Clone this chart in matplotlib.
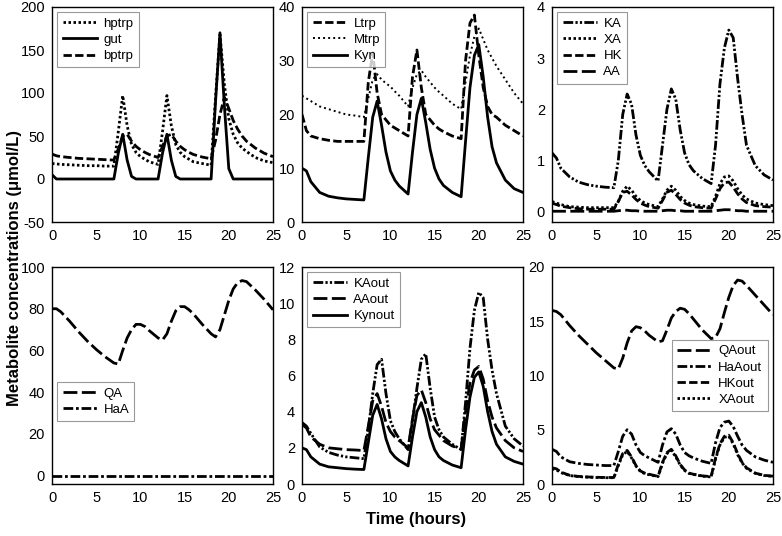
import numpy as np
import matplotlib
matplotlib.use("Agg")
import matplotlib.pyplot as plt

plt.rcParams['font.family'] = ['Liberation Sans', 'DejaVu Sans']
plt.rcParams['axes.unicode_minus'] = False

# ----------------------
# DATA
# ----------------------
hours = [0, 0.5, 1, 2, 3, 4, 5, 6, 7,
         7.5, 8, 8.5, 9, 9.5, 10, 10.5, 11, 12,
         12.5, 13, 13.5, 14, 14.5, 15, 15.5, 16, 17, 18,
         18.5, 19, 19.5, 20, 20.5, 21, 21.5, 22, 23, 24, 25]

# panel 1
hptrp = [18, 17.5, 17, 16.5, 16, 15.5, 15.5, 15, 15,
         55, 97, 62, 40, 31, 26, 23, 20, 17,
         55, 97, 62, 40, 31, 26, 23, 20, 18, 16,
         95, 168, 110, 70, 52, 42, 36, 32, 25, 21, 19]
gut = [5, 0, 0, 0, 0, 0, 0, 0, 0,
       30, 52, 22, 3, 0, 0, 0, 0, 0,
       30, 52, 22, 3, 0, 0, 0, 0, 0, 0,
       90, 170, 85, 12, 0, 0, 0, 0, 0, 0, 0]
bptrp = [29, 27, 26, 25, 24, 23.5, 23, 22.5, 22,
         35, 50, 52, 44, 38, 34, 31, 28.5, 25,
         38, 50, 52, 44, 38, 34, 31, 28.5, 25.5, 23.5,
         45, 75, 95, 82, 68, 58, 50, 44, 36, 30, 26]

# panel 2
Ltrp = [20, 17, 16, 15.5, 15.2, 15, 15, 15, 15,
        26, 31.5, 24, 20, 19, 18, 17.5, 17, 16,
        27, 32, 25, 20, 19, 18, 17.3, 16.8, 16, 15.5,
        30, 37, 38.5, 31, 25, 21.5, 20, 19.5, 18, 17, 16]
Mtrp = [23.5, 23, 22.5, 21.5, 21, 20.5, 20, 19.8, 19.5,
        23, 26.5, 27.5, 26.5, 25.8, 25.2, 24.3, 23.5, 21.5,
        25, 27.5, 28.2, 27, 26, 25, 24.2, 23.5, 22, 21,
        26, 31, 34.5, 36, 34, 32, 30.5, 29, 26.5, 24, 22]
Kyn = [10, 9.5, 7.5, 5.5, 4.8, 4.5, 4.3, 4.2, 4.1,
       12, 19.5, 22.5, 18, 13, 9.5, 7.8, 6.7, 5.2,
       13, 20, 23, 18.5, 13.5, 10, 8, 6.8, 5.5, 4.7,
       15, 25, 31, 33, 27, 19.5, 14, 11, 7.8, 6.2, 5.5]

# panel 3
KA = [1.15, 1.05, 0.85, 0.68, 0.58, 0.53, 0.5, 0.48, 0.47,
      1.0, 1.9, 2.3, 2.1, 1.5, 1.1, 0.9, 0.78, 0.6,
      1.3, 2.0, 2.4, 2.2, 1.6, 1.15, 0.92, 0.8, 0.65, 0.55,
      1.3, 2.5, 3.2, 3.55, 3.4, 2.6, 1.9, 1.3, 0.9, 0.72, 0.62]
XA = [0.2, 0.17, 0.14, 0.1, 0.09, 0.08, 0.08, 0.08, 0.08,
      0.2, 0.4, 0.5, 0.42, 0.3, 0.22, 0.17, 0.14, 0.1,
      0.25, 0.42, 0.5, 0.42, 0.3, 0.22, 0.17, 0.14, 0.11, 0.1,
      0.3, 0.55, 0.68, 0.7, 0.6, 0.45, 0.33, 0.25, 0.17, 0.14, 0.12]
HK = [0.17, 0.14, 0.11, 0.08, 0.06, 0.05, 0.05, 0.05, 0.05,
      0.2, 0.38, 0.4, 0.33, 0.24, 0.17, 0.13, 0.1, 0.07,
      0.22, 0.38, 0.42, 0.34, 0.24, 0.17, 0.13, 0.1, 0.08, 0.07,
      0.25, 0.45, 0.57, 0.58, 0.48, 0.35, 0.25, 0.18, 0.12, 0.1, 0.09]
AA = [0.01, 0.01, 0.01, 0.01, 0.01, 0.01, 0.01, 0.01, 0.01,
      0.02, 0.03, 0.03, 0.02, 0.02, 0.01, 0.01, 0.01, 0.01,
      0.02, 0.03, 0.03, 0.02, 0.02, 0.01, 0.01, 0.01, 0.01, 0.01,
      0.02, 0.03, 0.04, 0.04, 0.03, 0.02, 0.02, 0.01, 0.01, 0.01, 0.01]

# panel 4
QA = [80, 80, 78.5, 74, 69, 64.5, 60.5, 57, 54,
      53.5, 60, 66, 70, 72.5, 72.5, 71.5, 69.5, 66,
      65, 68, 74, 79, 81, 81, 79.5, 77.5, 72.5, 68,
      66.5, 70, 77, 84, 89.5, 92.5, 93.5, 93, 89, 84.5, 79.5]
HaA = [0] * len(hours)

# panel 5
KAout = [3.4, 3.2, 2.8, 2.05, 1.75, 1.6, 1.5, 1.45, 1.4,
         3.0, 5.0, 6.6, 6.9, 5.0, 3.5, 2.9, 2.5, 1.9,
         3.5, 5.3, 6.9, 7.2, 5.3, 3.7, 3.0, 2.6, 2.2, 1.9,
         4.5, 7.5, 9.6, 10.6, 10.3, 8.0, 6.3, 5.0, 3.2, 2.5, 2.1]
AAout = [3.3, 3.1, 2.6, 2.2, 2.0, 1.95, 1.9, 1.88, 1.85,
         3.2, 4.6, 5.0, 4.3, 3.4, 2.9, 2.6, 2.4, 2.0,
         3.6, 4.9, 5.2, 4.5, 3.6, 3.0, 2.7, 2.4, 2.1, 1.95,
         4.0, 5.6, 6.3, 6.5, 5.8, 4.6, 3.7, 3.1, 2.4, 2.0, 1.8]
Kynout = [2.0, 1.9, 1.5, 1.1, 0.95, 0.9, 0.85, 0.82, 0.8,
          2.3, 3.8, 4.4, 3.6, 2.5, 1.8, 1.5, 1.3, 1.0,
          2.6, 4.0, 4.5, 3.7, 2.6, 1.9, 1.5, 1.3, 1.05, 0.9,
          3.0, 4.8, 5.9, 6.2, 5.4, 4.0, 2.9, 2.2, 1.5, 1.25, 1.1]

# panel 6
QAout = [16, 15.9, 15.6, 14.6, 13.7, 12.9, 12.1, 11.4, 10.7,
         10.6, 11.6, 13, 14.1, 14.5, 14.4, 14.1, 13.7, 13.1,
         13.2, 14.2, 15.3, 15.9, 16.2, 16.1, 15.7, 15.2, 14.2, 13.4,
         13.5, 14.3, 15.8, 17.2, 18.3, 18.8, 18.7, 18.3, 17.4, 16.5, 15.6]
HaAout = [3.2, 3.0, 2.5, 2.05, 1.9, 1.8, 1.75, 1.7, 1.7,
          3.0, 4.4, 5.0, 4.6, 3.6, 2.9, 2.6, 2.4, 2.0,
          3.6, 4.8, 5.1, 4.6, 3.6, 2.9, 2.6, 2.4, 2.1, 1.9,
          3.8, 5.2, 5.7, 5.8, 5.3, 4.4, 3.6, 3.1, 2.5, 2.2, 2.0]
HKout = [1.5, 1.4, 1.1, 0.8, 0.7, 0.65, 0.62, 0.6, 0.6,
         1.8, 2.8, 3.1, 2.5, 1.7, 1.2, 1.0, 0.9, 0.7,
         2.0, 2.9, 3.2, 2.6, 1.8, 1.3, 1.0, 0.9, 0.75, 0.68,
         2.4, 3.7, 4.4, 4.5, 3.8, 2.8, 2.0, 1.5, 1.0, 0.8, 0.72]
XAout = [1.4, 1.3, 1.05, 0.78, 0.68, 0.63, 0.6, 0.58, 0.58,
         1.7, 2.7, 3.0, 2.4, 1.65, 1.15, 0.95, 0.85, 0.68,
         1.9, 2.8, 3.1, 2.5, 1.75, 1.25, 0.98, 0.88, 0.72, 0.65,
         2.3, 3.6, 4.3, 4.4, 3.7, 2.7, 1.95, 1.45, 0.98, 0.78, 0.7]

# ----------------------
# LINE STYLES
# ----------------------
DOT = (0, (0.9, 0.9))
FINEDOT = (0, (1, 1.6))
DASH = (0, (3, 1.2))
LONGDASH = (0, (5, 1.6))
DASHDOT = (0, (3.5, 1, 1, 1))
DASHDOTDOT = (0, (3.5, 0.8, 0.8, 0.8, 0.8, 0.8))
LW = 2.0

panels = [
    dict(series=[('hptrp', hptrp, DOT, LW), ('gut', gut, '-', LW), ('bptrp', bptrp, DASH, LW)],
         ylim=(-50, 200), yticks=[-50, 0, 50, 100, 150, 200], loc='upper left', anchor=None),
    dict(series=[('Ltrp', Ltrp, DASH, LW), ('Mtrp', Mtrp, FINEDOT, 1.4), ('Kyn', Kyn, '-', LW)],
         ylim=(0, 40), yticks=[0, 10, 20, 30, 40], loc='upper left', anchor=None),
    dict(series=[('KA', KA, DASHDOTDOT, LW), ('XA', XA, DOT, LW), ('HK', HK, DASH, LW), ('AA', AA, LONGDASH, LW)],
         ylim=(-0.2, 4), yticks=[0, 1, 2, 3, 4], loc='upper left', anchor=None),
    dict(series=[('QA', QA, LONGDASH, LW), ('HaA', HaA, DASHDOT, LW)],
         ylim=(-4, 100), yticks=[0, 20, 40, 60, 80, 100], loc='center left', anchor=(0.0, 0.38)),
    dict(series=[('KAout', KAout, DASHDOTDOT, LW), ('AAout', AAout, LONGDASH, LW), ('Kynout', Kynout, '-', LW)],
         ylim=(0, 12), yticks=[0, 2, 4, 6, 8, 10, 12], loc='upper left', anchor=None),
    dict(series=[('QAout', QAout, LONGDASH, LW), ('HaAout', HaAout, DASHDOT, LW), ('HKout', HKout, DASH, LW), ('XAout', XAout, DOT, LW)],
         ylim=(0, 20), yticks=[0, 5, 10, 15, 20], loc='center right', anchor=(1.0, 0.5)),
]

# ----------------------
# PLOT
# ----------------------
fig = plt.figure(figsize=(7.82, 5.36), dpi=100)
lefts = [52 / 782, 302 / 782, 552 / 782]
w = 221 / 782
rows = [(1 - 222 / 536, 215 / 536), (1 - 484 / 536, 217 / 536)]

for i, p in enumerate(panels):
    b, h = rows[i // 3]
    ax = fig.add_axes([lefts[i % 3], b, w, h])
    for name, vals, ls, lw in p['series']:
        ax.plot(hours, vals, color='black', linestyle=ls, linewidth=lw, label=name)
    ax.set_xlim(0, 25)
    ax.set_ylim(*p['ylim'])
    ax.set_xticks([0, 5, 10, 15, 20, 25])
    ax.set_yticks(p['yticks'])
    ax.tick_params(length=0, labelsize=10.5, pad=5)
    for s in ax.spines.values():
        s.set_linewidth(1.0)
    kw = dict(loc=p['loc'], fontsize=9.5, frameon=True, fancybox=False,
              edgecolor='gray', handlelength=2.6, borderaxespad=0.4,
              labelspacing=0.3, handletextpad=0.5, borderpad=0.4)
    if p['anchor'] is not None:
        kw['bbox_to_anchor'] = p['anchor']
    leg = ax.legend(**kw)
    leg.get_frame().set_linewidth(0.8)

fig.text(0.018, 0.5, 'Metabolite concentrations (\u03bcmol/L)', rotation=90,
         ha='center', va='center', fontsize=12, fontweight='bold')
fig.text(0.532, 0.03, 'Time (hours)', ha='center', va='center',
         fontsize=12, fontweight='bold')

fig.savefig('out.png', dpi=100)
